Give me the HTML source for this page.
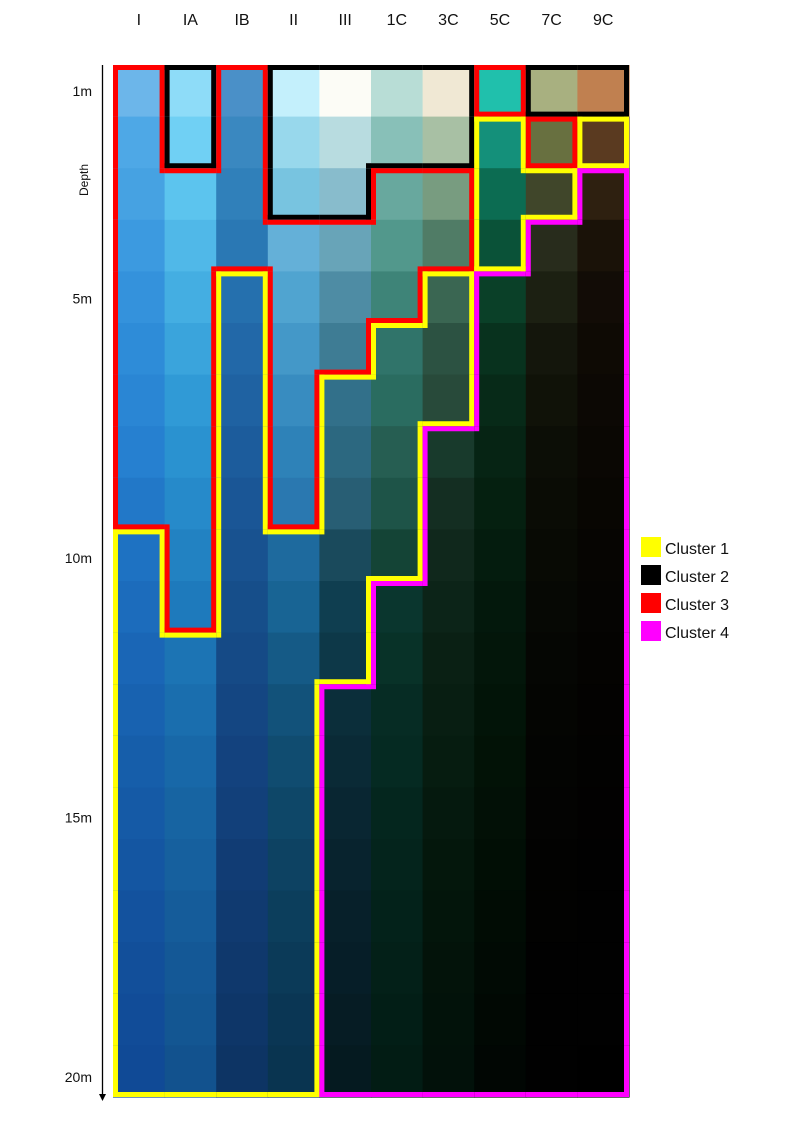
<!DOCTYPE html>
<html><head><meta charset="utf-8">
<style>
html,body{margin:0;padding:0;background:#fff;}
svg{display:block;font-family:"Liberation Sans",Arial,sans-serif;}
</style></head>
<body>
<svg id="chart" width="800" height="1146" viewBox="0 0 800 1146" xmlns="http://www.w3.org/2000/svg"></svg>
<script>
const columns = ["I","IA","IB","II","III","1C","3C","5C","7C","9C"];
const depthLabels = ["1m","5m","10m","15m","20m"];
const depthValues = [1,5,10,15,20];
const clusterNames = ["Cluster 1","Cluster 2","Cluster 3","Cluster 4"];
const clusterColors = ["#ffff00","#000000","#ff0000","#ff00ff"];
// cell colors per column, 20 depth rows
const colI  = ["6cb6ea","4ea8e6","46a2e2","3c9ae0","3492dc","2e8cd8","2a86d4","2680d0","2278c8","1e72c2","1c6cbc","1a66b6","1862b0","165eaa","155aa6","1456a2","13529e","124f9a","114c98","104a96"];
const colIA = ["8edcf8","70d0f4","5cc4ee","50b8e8","44aee2","3aa4dc","309ad6","2a92d0","268aca","2282c2","1e7abc","1c74b4","1a6eae","1868a8","1764a2","16609e","155c9a","145896","135692","12528e"];
const colIB = ["4a90c8","3a88c0","3080ba","2a78b4","2570ae","2268a8","1f62a2","1c5c9c","1a5696","185290","164e8a","154a86","144682","13427e","12407a","113c74","103a70","0f386c","0e3668","0d3464"];
const colII = ["c4f0fc","98d8ec","78c4e0","64b0d8","50a4d0","4498c8","388cc0","2e82b8","2a78b0","1e6a9e","186494","155a86","12527a","104c70","0e4768","0d4262","0c3e5c","0b3a58","0a3654","093450"];
const colIII= ["fcfcf6","b8dce0","88bccc","68a4b8","4e8ca4","3e7c94","32708a","2c6880","285e74","1a4a5c","0f3e50","0d3848","0b2e3a","0a2a36","092632","08232e","07202a","061e28","061c24","051a20"];
const col1C = ["b8ddd6","88c0b8","68a89e","52988c","3e8478","30746a","2a6c60","265e52","1e5448","144436","0a362e","083228","062c24","052a22","04261e","04241c","03221a","032018","021e16","021c14"];
const col3C = ["f0e8d4","a8c0a4","789c80","507c66","3a6652","2c5242","284a3a","183a2c","142e22","10281c","0c2418","0a2014","081e12","061c10","05190e","04170c","03150b","03130a","02120a","02110a"];
const col5C = ["20c0ac","14907a","0c6c52","0a5238","0a4028","08321e","072a18","062414","052010","041c0e","03180c","03160a","021408","021206","021006","010e05","010c04","010a04","010803","010603"];
const col7C = ["a8b080","687040","40462a","282c1c","1c2012","14160c","101208","0c0e06","0a0c05","080a04","060804","050603","040502","030402","030302","020201","020201","010101","010101","010101"];
const col9C = ["c08050","5a3a20","2e2010","1a1208","120c06","0e0a04","0c0804","0a0703","080602","060502","050402","040301","030201","020201","020101","010101","010101","010101","010101","000000"];
const cellColors = [colI,colIA,colIB,colII,colIII,col1C,col3C,col5C,col7C,col9C];
// cluster index (1-4) per column, 20 rows
const clI  = [3,3,3,3,3,3,3,3,3,1,1,1,1,1,1,1,1,1,1,1];
const clIA = [2,2,3,3,3,3,3,3,3,3,3,1,1,1,1,1,1,1,1,1];
const clIB = [3,3,3,3,1,1,1,1,1,1,1,1,1,1,1,1,1,1,1,1];
const clII = [2,2,2,3,3,3,3,3,3,1,1,1,1,1,1,1,1,1,1,1];
const clIII= [2,2,2,3,3,3,1,1,1,1,1,1,4,4,4,4,4,4,4,4];
const cl1C = [2,2,3,3,3,1,1,1,1,1,4,4,4,4,4,4,4,4,4,4];
const cl3C = [2,2,3,3,1,1,1,4,4,4,4,4,4,4,4,4,4,4,4,4];
const cl5C = [3,1,1,1,4,4,4,4,4,4,4,4,4,4,4,4,4,4,4,4];
const cl7C = [2,3,1,4,4,4,4,4,4,4,4,4,4,4,4,4,4,4,4,4];
const cl9C = [2,1,4,4,4,4,4,4,4,4,4,4,4,4,4,4,4,4,4,4];
const clusters = [clI,clIA,clIB,clII,clIII,cl1C,cl3C,cl5C,cl7C,cl9C];

const NS="http://www.w3.org/2000/svg";
const svg=document.getElementById('chart');
const X0=113, Y0=65, CW=51.6, RH=51.6, NR=20;
const xCol=c=>X0+c*CW;
const yRow=r=>Y0+r*RH;
const yDepth=d=>91+(d-1)*51.9;
function mk(tag,attrs){const e=document.createElementNS(NS,tag);for(const k in attrs)e.setAttribute(k,attrs[k]);svg.appendChild(e);return e;}

const cellsG=mk('g',{});


cellColors.forEach((col,c)=>{col.forEach((hex,r)=>{
  const e=document.createElementNS(NS,'rect');
  e.setAttribute('x',xCol(c));e.setAttribute('y',yRow(r));
  e.setAttribute('width',CW+0.6);e.setAttribute('height',RH+0.6);
  e.setAttribute('fill','#'+hex);
  
  
  cellsG.appendChild(e);
});});

// cluster borders
const W=5, h=W/2;
const bordG=mk('g',{});


function seg(x1,y1,x2,y2,color){
  const e=document.createElementNS(NS,'line');
  e.setAttribute('x1',x1);e.setAttribute('y1',y1);e.setAttribute('x2',x2);e.setAttribute('y2',y2);
  e.setAttribute('stroke',color);e.setAttribute('stroke-width',W);
  
  
  bordG.appendChild(e);
}
const get=(c,r)=>(c<0||c>=clusters.length||r<0||r>=NR)?0:clusters[c][r];
for(let c=0;c<clusters.length;c++)for(let r=0;r<NR;r++){
  const k=clusters[c][r], col=clusterColors[k-1];
  const x1=xCol(c), x2=xCol(c+1), y1=yRow(r), y2=yRow(r+1);
  if(get(c,r-1)!==k) seg(x1,y1+h,x2,y1+h,col);
  if(get(c,r+1)!==k) seg(x1,y2-h,x2,y2-h,col);
  if(get(c-1,r)!==k) seg(x1+h,y1,x1+h,y2,col);
  if(get(c+1,r)!==k) seg(x2-h,y1,x2-h,y2,col);
}
for(let c=0;c<clusters.length;c++)for(let r=0;r<NR;r++){
  const k=clusters[c][r], col=clusterColors[k-1];
  const x1=xCol(c), x2=xCol(c+1), y1=yRow(r), y2=yRow(r+1);
  [[-1,-1,x1,y1],[1,-1,x2-W,y1],[-1,1,x1,y2-W],[1,1,x2-W,y2-W]].forEach(([dc,dr,x,y])=>{
    if(get(c+dc,r)===k&&get(c,r+dr)===k&&get(c+dc,r+dr)!==k){
      const e=document.createElementNS(NS,'rect');
      e.setAttribute('x',x);e.setAttribute('y',y);e.setAttribute('width',W);e.setAttribute('height',W);e.setAttribute('fill',col);
      
      
      bordG.appendChild(e);
    }
  });
}

// column labels
columns.forEach((name,c)=>{
  const t=mk('text',{x:xCol(c)+CW/2,y:25,'font-size':16,'text-anchor':'middle',fill:'#111'});
  t.textContent=name;
  
  
});
// depth axis
const ax=mk('line',{x1:102.5,y1:65,x2:102.5,y2:1096,stroke:'#000','stroke-width':1.3});


const ar=mk('path',{d:'M99,1094 L106,1094 L102.5,1101 Z',fill:'#000'});


depthValues.forEach((d,i)=>{
  const t=mk('text',{x:92,y:yDepth(d)+5,'font-size':14,'text-anchor':'end',fill:'#111'});
  t.textContent=depthLabels[i];
  
  
});
const dt=mk('text',{x:0,y:0,'font-size':12,'text-anchor':'middle',fill:'#111',transform:'translate(88,180) rotate(-90)'});
dt.textContent='Depth';



// legend
clusterNames.forEach((n,i)=>{
  const y=537+i*28;
  const r=mk('rect',{x:641,y:y,width:20,height:20,fill:clusterColors[i]});
  
  
  const t=mk('text',{x:665,y:y+17,'font-size':16,fill:'#111'});
  t.textContent=n;
  
  
});
</script>
</body></html>
